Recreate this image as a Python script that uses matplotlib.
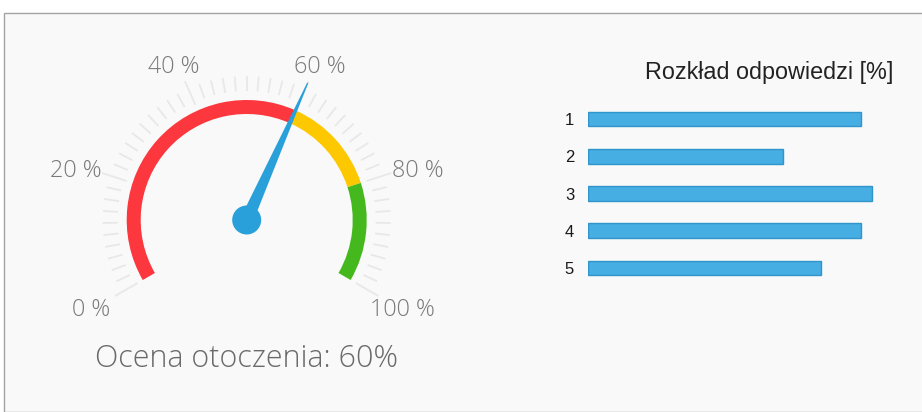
import numpy as np
import matplotlib
matplotlib.use("Agg")
import matplotlib.pyplot as plt
from matplotlib.patches import Wedge, Circle, Polygon, Rectangle

# gauge data
gauge_value = 60
band_edges = [0, 60, 80, 100]
band_colors = ["#fc373d", "#fdc800", "#44b81c"]
gauge_labels = [0, 20, 40, 60, 80, 100]
gauge_title = "Ocena otoczenia: 60%"

# bar data
answers = ["1", "2", "3", "4", "5"]
shares = [21.7, 15.5, 22.6, 21.7, 18.5]
bar_title = "Rozkład odpowiedzi [%]"

W, H = 922, 412
fig = plt.figure(figsize=(W / 100, H / 100), dpi=100)
fig.patch.set_facecolor("white")

# panel frame
fig.patches.append(Rectangle((4 / W, 0), 1, (H - 12.5) / H, transform=fig.transFigure,
                             facecolor="#f9f9f9", edgecolor="#a3a3a3", linewidth=1, zorder=-5))

# gauge axes, 1 unit = 1 px, centre of dial at origin
cx, cy = 246.7, 220
gax = fig.add_axes([0, 0, 1, 1])
gax.set_xlim(-cx, W - cx)
gax.set_ylim(-(H - cy), cy)
gax.axis("off")
gax.patch.set_alpha(0)


def angle(v):
    return 210 - 240 * v / 100.0


# minor / major ticks
for v in range(0, 101, 2):
    a = np.radians(angle(v))
    r1, r2 = (126, 152) if v % 20 == 0 else (129, 144)
    gax.plot([r1 * np.cos(a), r2 * np.cos(a)], [r1 * np.sin(a), r2 * np.sin(a)],
             color="#e8e8e8", lw=1.3, solid_capstyle="butt", zorder=1)

# colour bands
for lo, hi, c in zip(band_edges[:-1], band_edges[1:], band_colors):
    gax.add_patch(Wedge((0, 0), 120, angle(hi), angle(lo), width=14, facecolor=c,
                        edgecolor="none", zorder=2))

# tick labels
for v in gauge_labels:
    a = np.radians(angle(v))
    gax.text(180 * np.cos(a), 172 * np.sin(a) - 4, f"{v} %", ha="center", va="center",
             fontsize=16.8, color="#7a7a7a", family="Open Sans", fontweight="light")

# needle
a = np.radians(angle(gauge_value))
ux, uy = np.cos(a), np.sin(a)
px, py = -uy, ux
base, tip, rlen = 6.5, 0.6, 150
needle = [(px * base, py * base), (ux * rlen + px * tip, uy * rlen + py * tip),
          (ux * rlen - px * tip, uy * rlen - py * tip), (-px * base, -py * base)]
gax.add_patch(Polygon(needle, closed=True, facecolor="#2aa0da", edgecolor="none", zorder=3))
gax.add_patch(Circle((0, 0), 14.5, facecolor="#2aa0da", edgecolor="none", zorder=4))

gax.text(0, -(359 - cy), gauge_title, ha="center", va="center", fontsize=22,
         color="#6a6a6a", family="Open Sans", fontweight="light")

# bar chart
spacing = 37.25
top = 119 - spacing / 2
px_per_unit = 12.57
xmax = 25
bax = fig.add_axes([588 / W, 1 - (top + 5 * spacing) / H, xmax * px_per_unit / W, 5 * spacing / H])
y = np.arange(len(answers))
bax.barh(y, shares, height=0.4, color="#46aee2", edgecolor="#3194cb", linewidth=1)
bax.set_xlim(0, xmax)
bax.set_ylim(len(answers) - 0.5, -0.5)
bax.set_yticks(y)
bax.set_yticklabels(answers, fontsize=12, color="#1a1a1a", family="Liberation Sans")
bax.tick_params(axis="y", length=0, pad=10)
bax.set_xticks([])
for s in bax.spines.values():
    s.set_visible(False)
bax.patch.set_alpha(0)

fig.text(893 / W, 1 - 72 / H, bar_title, ha="right", va="center", fontsize=16.8,
         color="#222222", family="Liberation Sans")

fig.savefig("out.png", dpi=100)
